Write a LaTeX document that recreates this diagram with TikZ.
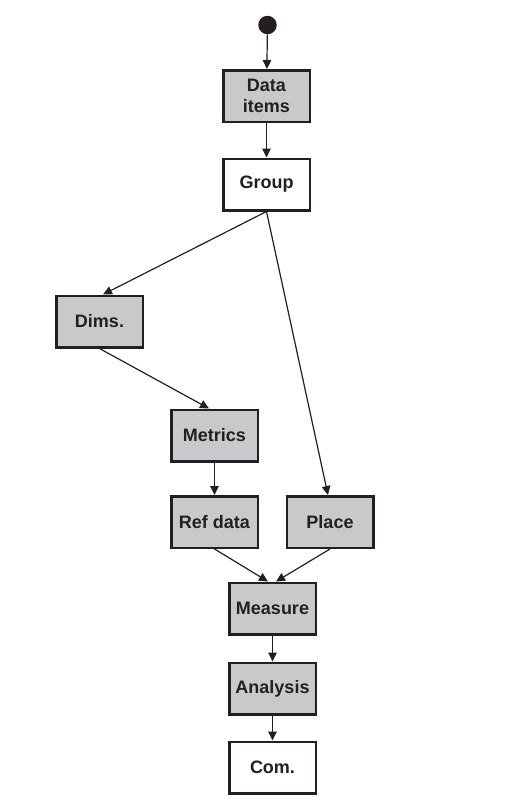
\documentclass[tikz,border=0pt]{standalone}
\usepackage{fontspec}
\setmainfont{Liberation Sans}
\usetikzlibrary{arrows.meta}
\definecolor{boxgrey}{HTML}{C8C9CB}
\definecolor{ink}{HTML}{231F20}
\tikzset{
  box/.style={draw=ink, line width=2.5pt, minimum width=86.5pt, minimum height=51.5pt,
    inner sep=2pt, align=center, text=ink,
    font=\fontsize{18}{21.5}\selectfont\bfseries},
  greybox/.style={box, fill=boxgrey},
  whitebox/.style={box, fill=white},
  conn/.style={draw=ink, line width=1.2pt, -{Triangle[length=9pt,width=8.5pt]}},
}
\begin{document}
\begin{tikzpicture}[x=1pt,y=-1pt]
\useasboundingbox[fill=white] (0,0) rectangle (516,807);
\node[circle, fill=ink, minimum size=18.5pt, inner sep=0pt] (start) at (267.5,25) {};
\node[greybox] (data) at (266.5,96) {Data\\items};
\node[whitebox] (group) at (266.5,184.5) {Group};
\node[greybox] (dims) at (99.5,321.5) {Dims.};
\node[greybox] (metrics) at (214.5,435.5) {Metrics};
\node[greybox] (refdata) at (214.5,522) {Ref data};
\node[greybox] (place) at (330,522) {Place};
\node[greybox] (measure) at (272.5,608.5) {Measure};
\node[greybox] (analysis) at (272.5,688.5) {Analysis};
\node[whitebox] (com) at (272.5,767.5) {Com.};

\draw[conn] (start) -- (data);
\draw[conn] (data) -- (group);
\draw[conn] (group.south) -- ([xshift=3.5pt]dims.north);
\draw[conn] (group.south) -- ([xshift=-2pt]place.north);
\draw[conn] (dims.south) -- ([xshift=-5.5pt]metrics.north);
\draw[conn] (metrics) -- (refdata);
\draw[conn] (refdata.south) -- ([xshift=-4.5pt]measure.north);
\draw[conn] (place.south) -- ([xshift=3.5pt]measure.north);
\draw[conn] (measure) -- (analysis);
\draw[conn] (analysis) -- (com);
\end{tikzpicture}
\end{document}
